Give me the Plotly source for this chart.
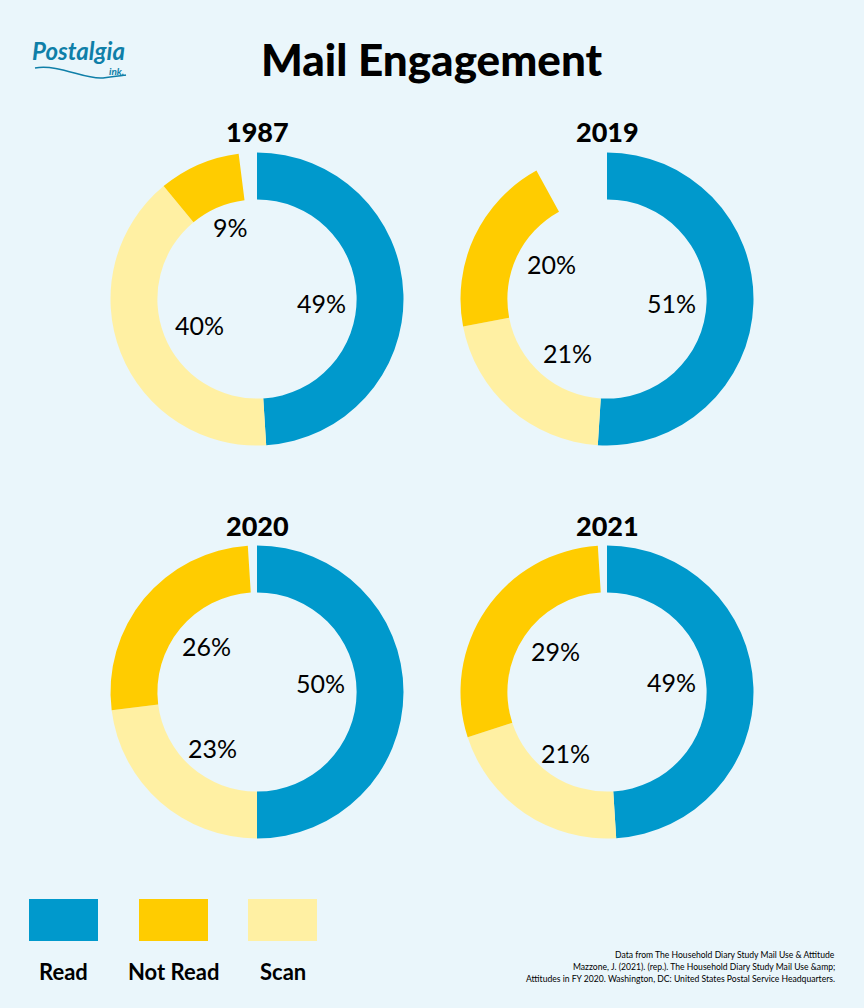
import plotly.graph_objects as go

W = 864
H = 1008

# values, the blank share is the gap left at the top of each ring
years = ['1987', '2019', '2020', '2021']
read = [49, 51, 50, 49]
scan = [40, 21, 23, 21]
not_read = [9, 20, 26, 29]
blank = [2, 8, 1, 1]

categories = ['Read', 'Scan', 'Not Read', '']
colors = ['#0099CC', '#FFF0A3', '#FFCC00', 'rgba(0,0,0,0)']
bg = '#EAF6FB'

centers = [(257, 299), (607, 299), (257, 692), (607, 692)]
radius = 146.5
year_y = [132, 132, 525, 525]

# label pixel positions (x, y) for read, scan, not read
label_pos = [
    [(321, 303), (199, 325), (230, 227)],
    [(671, 303), (567, 353), (551, 264)],
    [(320, 683), (212, 748), (206, 646)],
    [(671, 682), (565, 753), (555, 651)],
]

source_lines = [
    'Data from The Household Diary Study Mail Use & Attitude',
    'Mazzone, J. (2021). (rep.). The Household Diary Study Mail Use &amp;amp;',
    'Attitudes in FY 2020. Washington, DC: United States Postal Service Headquarters.',
]

LABEL_FONT = 'Lato'
HEAD_FONT = 'Lato'


def px(x):
    return x / W


def py(y):
    return 1 - y / H


fig = go.Figure()

for i, year in enumerate(years):
    cx, cy = centers[i]
    fig.add_trace(go.Pie(
        labels=categories,
        values=[read[i], scan[i], not_read[i], blank[i]],
        name=year,
        sort=False,
        direction='clockwise',
        rotation=0,
        hole=0.68,
        marker=dict(colors=colors, line=dict(width=0)),
        textinfo='none',
        hoverinfo='label+value',
        showlegend=False,
        domain=dict(x=[px(cx - radius), px(cx + radius)], y=[py(cy + radius), py(cy - radius)]),
    ))


def add_text(x, y, text, size, font=LABEL_FONT, weight='normal', xanchor='center', color='#000000'):
    fig.add_annotation(x=px(x), y=py(y), xref='paper', yref='paper', text=text, showarrow=False,
                       xanchor=xanchor, yanchor='middle', align='center',
                       font=dict(family=font, size=size, color=color, weight=weight))


# title and year headings
add_text(432, 59, 'Mail Engagement', 44, HEAD_FONT, 900)
for i, year in enumerate(years):
    add_text(centers[i][0], year_y[i], year, 27, HEAD_FONT, 900)

# percent labels in the ring holes
for i in range(4):
    vals = [read[i], scan[i], not_read[i]]
    for v, pos in zip(vals, label_pos[i]):
        add_text(pos[0], pos[1], f'{v}%', 25)

# legend drawn by hand along the bottom
legend_names = ['Read', 'Not Read', 'Scan']
legend_colors = ['#0099CC', '#FFCC00', '#FFF0A3']
legend_x = [29, 139, 248]
for name, col, x0 in zip(legend_names, legend_colors, legend_x):
    fig.add_shape(type='rect', xref='paper', yref='paper', x0=px(x0), x1=px(x0 + 69),
                  y0=py(941), y1=py(899), fillcolor=col, line_width=0)
    add_text(x0 + 34.5, 971, name, 22, HEAD_FONT, 'bold')

# source note, right aligned
for line, y in zip(source_lines, [955, 967, 979]):
    add_text(837, y, line, 8.6, LABEL_FONT, xanchor='right')

# logo, plain text stand in with the swoosh underneath
add_text(78, 50, '<i>Postalgia</i>', 24, 'Lato', 'bold', color='#0F7FA8')
add_text(116, 71, '<i>ink.</i>', 10, 'Lato', 'bold', color='#0F7FA8')
fig.add_shape(type='path', xref='paper', yref='paper', line=dict(color='#0F7FA8', width=1.5),
              path=f'M {px(35)} {py(68)} C {px(60)} {py(64)}, {px(85)} {py(80)}, {px(103)} {py(78)} S {px(120)} {py(76)}, {px(126)} {py(75)}')

fig.update_layout(
    width=W,
    height=H,
    margin=dict(l=0, r=0, t=0, b=0),
    paper_bgcolor=bg,
    plot_bgcolor=bg,
    showlegend=False,
)

fig.write_html('out.html', config=dict(displayModeBar=False), post_script="document.body.style.margin='0';")
